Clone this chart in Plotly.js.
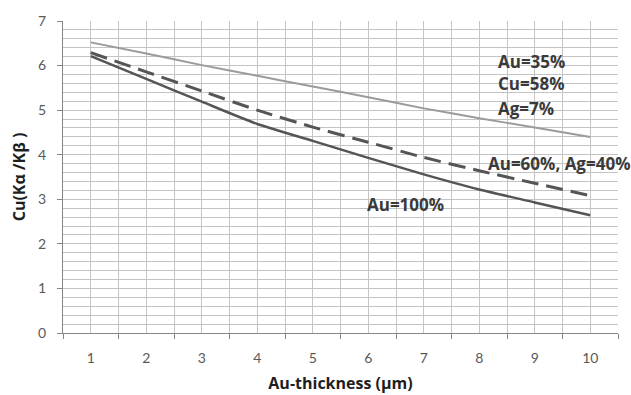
<!DOCTYPE html>
<html>
<head>
<meta charset="utf-8">
<script src="https://cdn.plot.ly/plotly-3.0.1.min.js"></script>
<style>html,body{margin:0;padding:0;background:#fff;}#chart{width:631px;height:395px;}</style>
</head>
<body>
<div id="chart"></div>
<script>
const thickness = [1, 2, 3, 4, 5, 6, 7, 8, 9, 10];
const xTickLabels = ['1', '2', '3', '4', '5', '6', '7', '8', '9', '10'];
const auCuAg = [6.52, 6.27, 6.01, 5.77, 5.53, 5.29, 5.04, 4.82, 4.61, 4.40];
const auAg = [6.29, 5.86, 5.43, 5.00, 4.62, 4.28, 3.94, 3.64, 3.36, 3.08];
const au100 = [6.21, 5.70, 5.19, 4.69, 4.31, 3.93, 3.56, 3.22, 2.93, 2.64];

const labelFont = {family: '"Open Sans", sans-serif', size: 17, color: '#3a3a3a', weight: 'bold'};
const titleFont = {family: '"Open Sans", sans-serif', size: 16, color: '#1e1e1e', weight: 'bold'};

const traces = [
  {x: thickness, y: auCuAg, type: 'scatter', mode: 'lines', name: 'Au=35% Cu=58% Ag=7%',
   line: {color: '#9b9b9b', width: 2, shape: 'spline', smoothing: 0.6}},
  {x: thickness, y: auAg, type: 'scatter', mode: 'lines', name: 'Au=60%, Ag=40%',
   line: {color: '#555555', width: 3, dash: '17px,8px', shape: 'spline', smoothing: 0.6}},
  {x: thickness, y: au100, type: 'scatter', mode: 'lines', name: 'Au=100%',
   line: {color: '#555555', width: 2.5, shape: 'spline', smoothing: 0.6}}
];

const layout = {
  width: 631, height: 395,
  margin: {l: 62.5, r: 12.5, t: 21, b: 61.5},
  paper_bgcolor: '#ffffff', plot_bgcolor: '#ffffff',
  showlegend: false,
  font: {family: 'Lato, "Open Sans", sans-serif', color: '#595959', size: 14},
  xaxis: {
    range: [0.5, 10.5], tickmode: 'array', tickvals: thickness, ticktext: xTickLabels,
    ticks: '', showgrid: true, gridcolor: '#c4c4c4', gridwidth: 1,
    showline: true, linecolor: '#868686', linewidth: 1, zeroline: false,
    ticklabelstandoff: 12,
    tickfont: {size: 14, color: '#595959'},
    minor: {tick0: 0.5, dtick: 1, ticks: 'outside', ticklen: 5, tickcolor: '#868686', showgrid: true, gridcolor: '#c4c4c4', gridwidth: 1},
    title: {text: 'Au-thickness (µm)', font: titleFont, standoff: 13},
    automargin: false, fixedrange: true
  },
  yaxis: {
    range: [0, 7], dtick: 1, tick0: 0, ticks: 'outside', ticklen: 5, tickcolor: '#868686',
    showgrid: true, gridcolor: '#c4c4c4', gridwidth: 1,
    showline: true, linecolor: '#868686', linewidth: 1, zeroline: false,
    ticklabelstandoff: 8,
    tickfont: {size: 14, color: '#595959'},
    minor: {tick0: 0, dtick: 0.2, showgrid: true, gridcolor: '#c4c4c4', gridwidth: 1},
    title: {text: 'Cu(Kα /Kβ )', font: titleFont, standoff: 8},
    automargin: false, fixedrange: true
  },
  annotations: [
    {x: 8.31, y: 6.09, xref: 'x', yref: 'y', text: 'Au=35%', showarrow: false, xanchor: 'left', yanchor: 'middle', font: labelFont},
    {x: 8.31, y: 5.60, xref: 'x', yref: 'y', text: 'Cu=58%', showarrow: false, xanchor: 'left', yanchor: 'middle', font: labelFont},
    {x: 8.31, y: 5.04, xref: 'x', yref: 'y', text: 'Ag=7%', showarrow: false, xanchor: 'left', yanchor: 'middle', font: labelFont},
    {x: 8.13, y: 3.81, xref: 'x', yref: 'y', text: 'Au=60%, Ag=40%', showarrow: false, xanchor: 'left', yanchor: 'middle', font: labelFont},
    {x: 5.94, y: 2.88, xref: 'x', yref: 'y', text: 'Au=100%', showarrow: false, xanchor: 'left', yanchor: 'middle', font: labelFont}
  ]
};

Plotly.newPlot('chart', traces, layout, {displayModeBar: false, staticPlot: true});
</script>
</body>
</html>
